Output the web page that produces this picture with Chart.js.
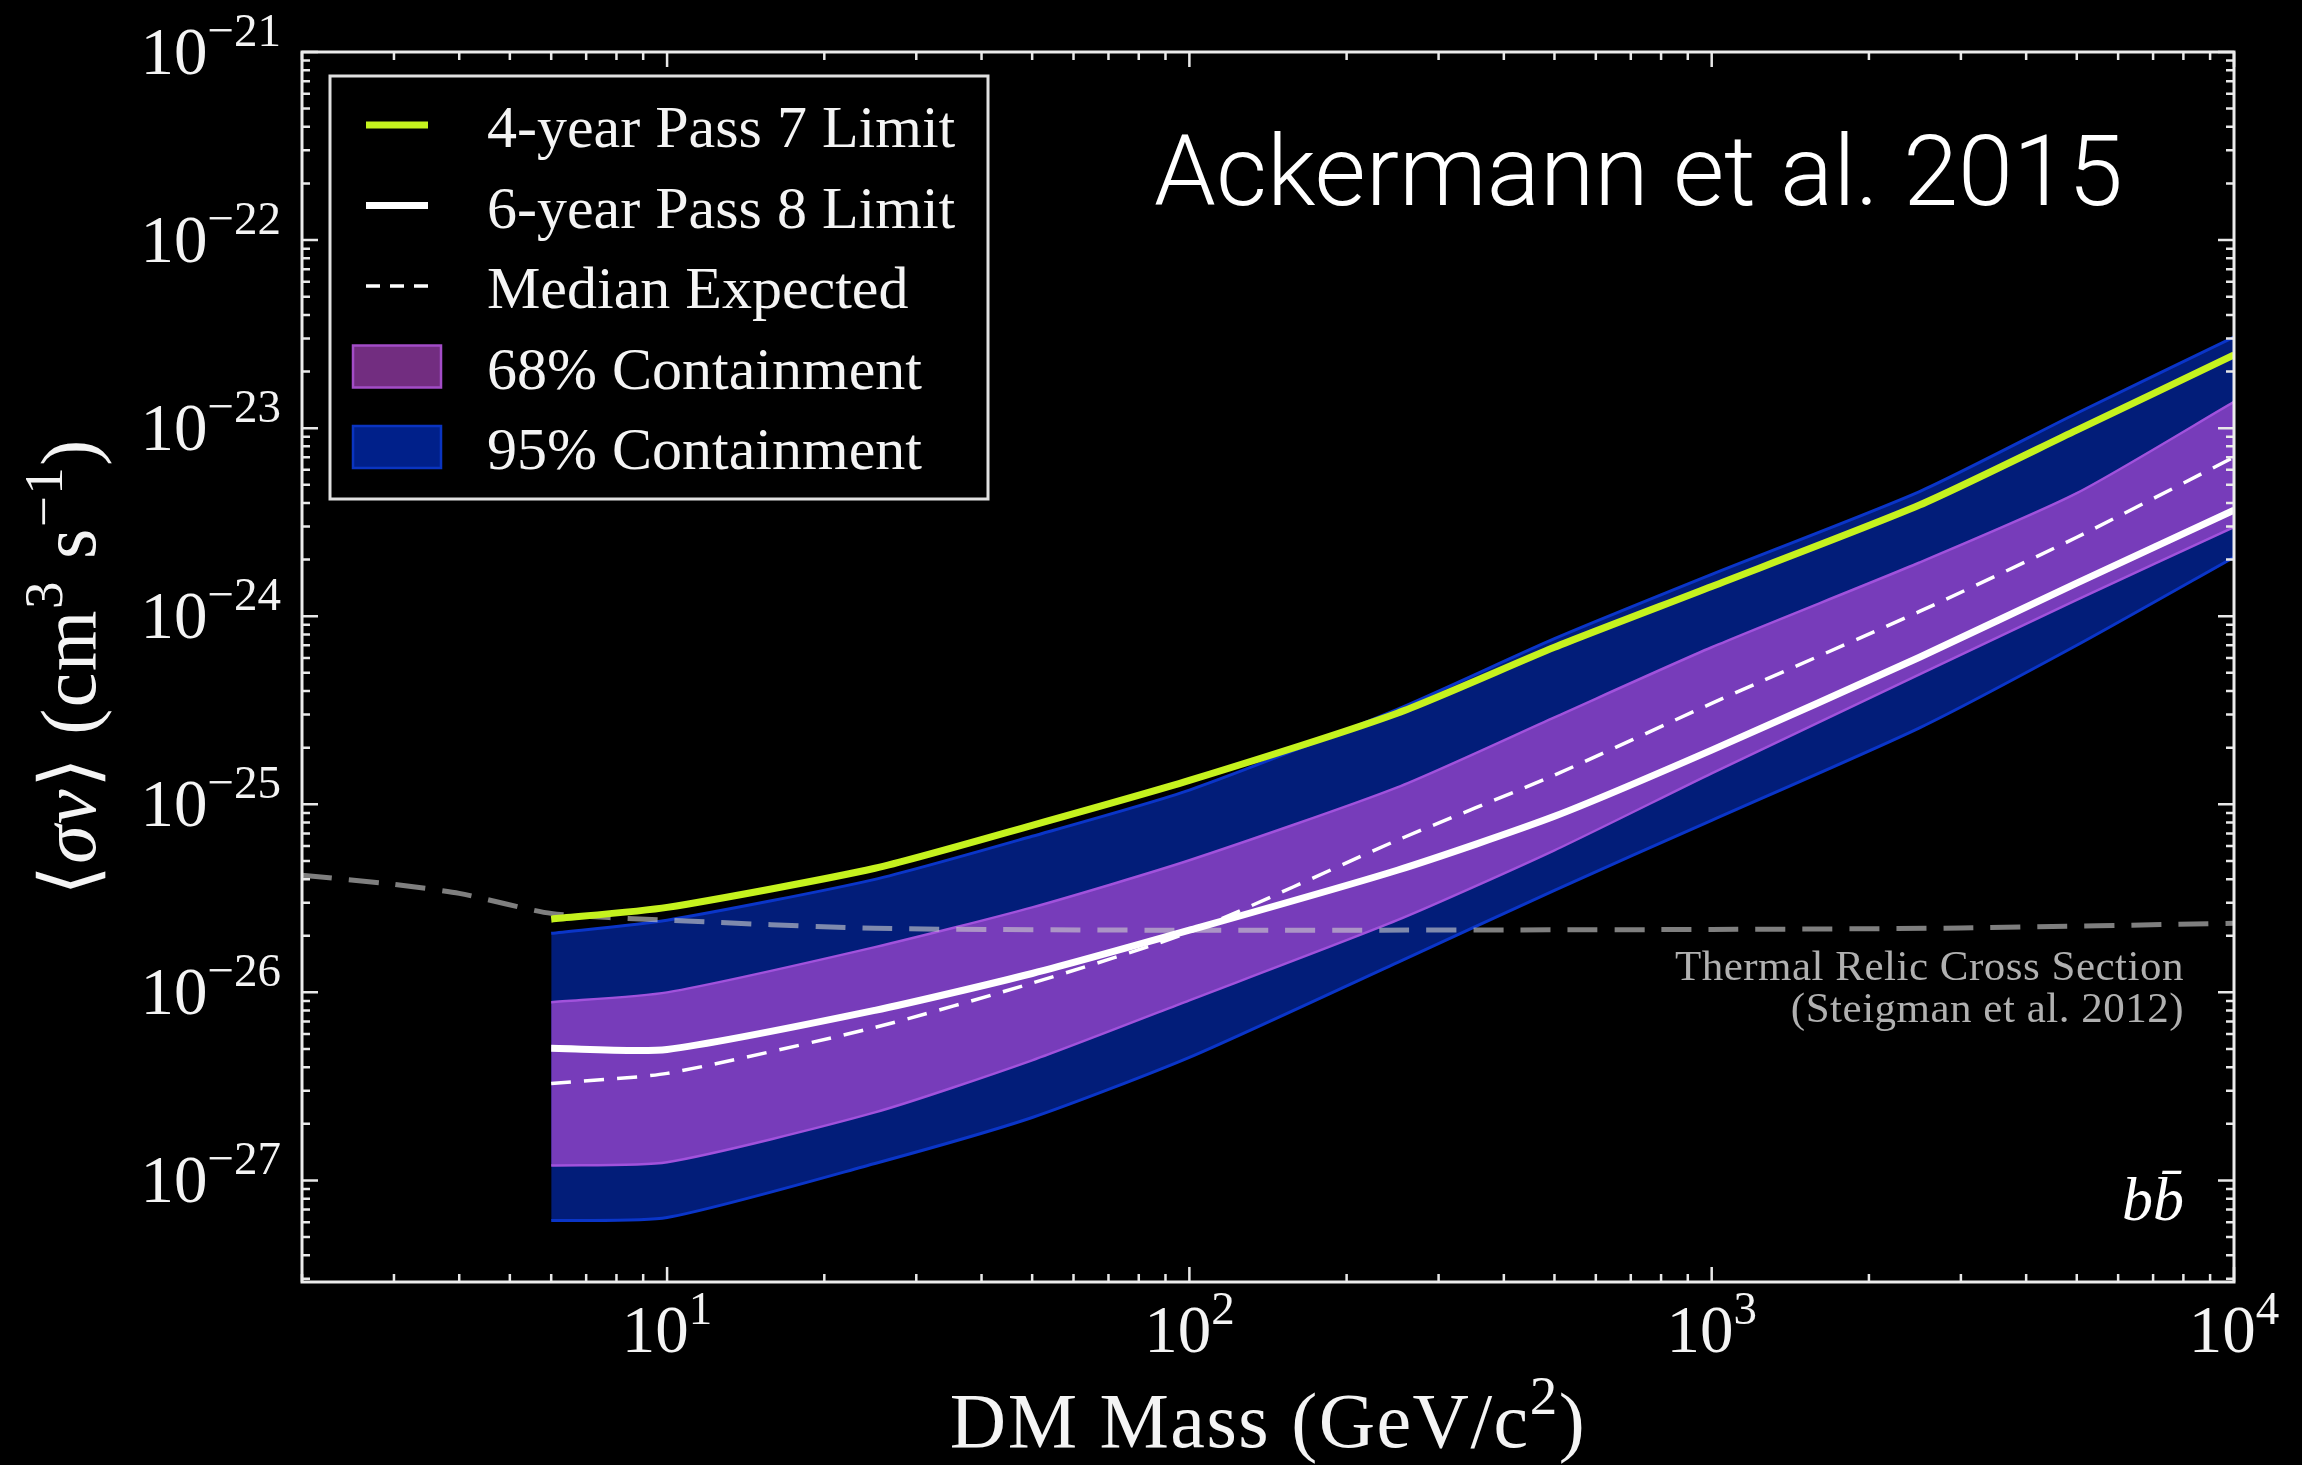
<!DOCTYPE html>
<html>
<head>
<meta charset="utf-8">
<script src="https://cdn.jsdelivr.net/npm/chart.js@4.4.0/dist/chart.umd.min.js"></script>
<style>
  html, body { margin: 0; padding: 0; background: #000; }
  #wrap { width: 2302px; height: 1465px; }
</style>
</head>
<body>
<div id="wrap"><canvas id="graph-canvas" width="2302" height="1465"></canvas></div>
<script>
// DM masses (GeV/c^2) and limits on <sigma v> (cm^3 s^-1)
var masses = [6, 10, 25, 50, 100, 250, 500, 1000, 2500, 5000, 10000];
var pass7Limit = [2.45e-26, 2.83e-26, 4.57e-26, 7.73e-26, 1.34e-25, 3.05e-25, 6.84e-25, 1.44e-24, 3.9e-24, 9.76e-24, 2.45e-23];
var pass8Limit = [5.04e-27, 4.97e-27, 8.02e-27, 1.26e-26, 2.14e-26, 4.46e-26, 8.63e-26, 1.94e-25, 6.05e-25, 1.5e-24, 3.66e-24];
var medianExpected = [3.28e-27, 3.71e-27, 6.51e-27, 1.12e-26, 2.09e-26, 6.44e-26, 1.43e-25, 3.44e-25, 1.06e-24, 2.63e-24, 7.01e-24];
var band68Upper = [8.85e-27, 1.0e-26, 1.74e-26, 2.83e-26, 5.04e-26, 1.23e-25, 2.9e-25, 6.84e-25, 1.93e-24, 4.51e-24, 1.38e-23];
var band68Lower = [1.2e-27, 1.25e-27, 2.3e-27, 4.35e-27, 9.07e-27, 2.42e-26, 5.69e-26, 1.46e-25, 4.9e-25, 1.22e-24, 2.98e-24];
var band95Upper = [2.06e-26, 2.42e-26, 3.99e-26, 6.76e-26, 1.19e-25, 3.2e-25, 7.6e-25, 1.67e-24, 4.6e-24, 1.2e-23, 3.05e-23];
var band95Lower = [6.12e-28, 6.35e-28, 1.23e-27, 2.16e-27, 4.51e-27, 1.44e-26, 3.49e-26, 8.22e-26, 2.55e-25, 7.01e-25, 2.06e-24];
var thermalMasses = [2, 3, 4, 6, 10, 25, 100, 1000, 3000, 10000];
var thermalRelic = [4.2e-26, 3.75e-26, 3.36e-26, 2.63e-26, 2.42e-26, 2.19e-26, 2.14e-26, 2.16e-26, 2.2e-26, 2.33e-26];
var xDecades = [1, 2, 3, 4];
var yDecades = [-27, -26, -25, -24, -23, -22, -21];

var serif = "'Liberation Serif', 'DejaVu Serif', serif";

var pts = (xs, ys) => xs.map((x, i) => ({x: x, y: ys[i]}));

var datasets = [
    {label: '6-year Pass 8 Limit', data: pts(masses, pass8Limit), borderColor: '#ffffff', borderWidth: 7},
    {label: 'Median Expected', data: pts(masses, medianExpected), borderColor: '#ffffff', borderWidth: 3.5, borderDash: [20, 13]},
    {label: '4-year Pass 7 Limit', data: pts(masses, pass7Limit), borderColor: '#c5f21e', borderWidth: 7},
    {label: 'Thermal Relic Cross Section', data: pts(thermalMasses, thermalRelic), borderColor: 'rgba(205,205,205,0.62)', borderWidth: 5, borderDash: [30, 17]},
    {label: '68% Containment', data: pts(masses, band68Upper), borderColor: '#a152dc', borderWidth: 2.5, backgroundColor: '#773cba', fill: '+1'},
    {label: '', data: pts(masses, band68Lower), borderColor: '#a152dc', borderWidth: 2.5},
    {label: '95% Containment', data: pts(masses, band95Upper), borderColor: '#0a35c8', borderWidth: 3, backgroundColor: '#021d79', fill: '+1'},
    {label: '', data: pts(masses, band95Lower), borderColor: '#0a35c8', borderWidth: 3}
];
datasets.forEach(d => { d.pointRadius = 0; d.tension = 0.22; if (!d.fill) d.fill = false; });

// pieces of text: [string, kind] with kind '' normal, 'i' italic, 's' superscript
function partFont(p, size) {
    if (p[1] == 's') return Math.round(size * 0.7) + 'px ' + serif;
    if (p[1] == 'i') return 'italic ' + size + 'px ' + serif;
    return size + 'px ' + serif;
}

function drawParts(ctx, parts, x, y, align, size, spacing) {
    var widths = [], total = 0;
    ctx.letterSpacing = (spacing || 0) + 'px';
    parts.forEach(p => {
        ctx.font = partFont(p, size);
        var w = ctx.measureText(p[0]).width;
        widths.push(w);
        total += w;
    });
    var cx = align == 'center' ? x - total / 2 : (align == 'right' ? x - total : x);
    ctx.textAlign = 'left';
    ctx.textBaseline = 'alphabetic';
    parts.forEach((p, i) => {
        ctx.font = partFont(p, size);
        ctx.fillText(p[0], cx, p[1] == 's' ? y - size * 0.42 : y);
        cx += widths[i];
    });
    ctx.letterSpacing = '0px';
}

var legendOrder = [2, 0, 1, 4, 6];
var legendSwatch = {4: ['#722d80', '#a34cc7'], 6: ['#00208a', '#0a34c0']};

var decorations = {
    id: 'decorations',
    afterDatasetsDraw(chart) {
        var ctx = chart.ctx, a = chart.chartArea;
        var xs = chart.scales.x, ys = chart.scales.y;
        ctx.save();

        // ticks pointing inwards on all four sides
        ctx.strokeStyle = '#e8e8e8';
        ctx.lineWidth = 2.5;
        ctx.beginPath();
        for (var d = 0; d <= 4; d++) {
            for (var m = 1; m < 10; m++) {
                var v = m * Math.pow(10, d);
                if (v < xs.min * 0.999 || v > xs.max * 1.001) continue;
                var px = xs.getPixelForValue(v);
                var len = m == 1 ? 15 : 8;
                ctx.moveTo(px, a.bottom); ctx.lineTo(px, a.bottom - len);
                ctx.moveTo(px, a.top); ctx.lineTo(px, a.top + len);
            }
        }
        for (var d = -28; d <= -21; d++) {
            for (var m = 1; m < 10; m++) {
                var v = m * Math.pow(10, d);
                if (v < ys.min || v > ys.max * 1.001) continue;
                var py = ys.getPixelForValue(v);
                var len = m == 1 ? 16 : 8;
                ctx.moveTo(a.left, py); ctx.lineTo(a.left + len, py);
                ctx.moveTo(a.right, py); ctx.lineTo(a.right - len, py);
            }
        }
        ctx.stroke();

        // frame
        ctx.lineWidth = 3;
        ctx.strokeStyle = '#ececec';
        ctx.strokeRect(a.left, a.top, a.right - a.left, a.bottom - a.top);

        // tick labels
        ctx.fillStyle = '#f4f4f4';
        yDecades.forEach(k => {
            var py = ys.getPixelForValue(Math.pow(10, k));
            drawParts(ctx, [['10', ''], ['\u2212' + (-k), 's']], 281, py + 22, 'right', 67);
        });
        xDecades.forEach(k => {
            var px = xs.getPixelForValue(Math.pow(10, k));
            drawParts(ctx, [['10', ''], [String(k), 's']], px, 1352, 'center', 67);
        });

        // axis titles
        drawParts(ctx, [['DM Mass (GeV/c', ''], ['2', 's'], [')', '']], (a.left + a.right) / 2, 1447, 'center', 78, 1.5);
        ctx.save();
        ctx.translate(95, (a.top + a.bottom) / 2);
        ctx.rotate(-Math.PI / 2);
        drawParts(ctx, [['\u27e8', ''], ['\u03c3v', 'i'], ['\u27e9 (cm', ''], ['3', 's'], [' s', ''], ['\u22121', 's'], [')', '']], 0, 0, 'center', 78, 1.5);
        ctx.restore();

        // annotations
        ctx.fillStyle = '#b0b0b0';
        ctx.font = '43px ' + serif;
        ctx.textAlign = 'right';
        ctx.letterSpacing = '0.5px';
        ctx.fillText('Thermal Relic Cross Section', 2184, 980);
        ctx.fillText('(Steigman et al. 2012)', 2184, 1022);
        ctx.letterSpacing = '0px';
        ctx.fillStyle = '#ffffff';
        ctx.font = 'italic 62px ' + serif;
        ctx.fillText('b\u0062\u0304', 2184, 1220);

        ctx.font = '300 99px Roboto, "Open Sans", sans-serif';
        ctx.textAlign = 'left';
        ctx.fillText('Ackermann et al. 2015', 1154, 205);

        // legend box
        ctx.fillStyle = '#000000';
        ctx.fillRect(330, 76, 658, 423);
        ctx.strokeStyle = '#e0e0e0';
        ctx.lineWidth = 3;
        ctx.strokeRect(330, 76, 658, 423);
        legendOrder.forEach((idx, row) => {
            var ds = chart.data.datasets[idx];
            var cy = 125 + row * 80.5;
            if (legendSwatch[idx]) {
                ctx.fillStyle = legendSwatch[idx][0];
                ctx.strokeStyle = legendSwatch[idx][1];
                ctx.lineWidth = 2.5;
                ctx.fillRect(353, cy - 21, 88, 42);
                ctx.strokeRect(353, cy - 21, 88, 42);
            } else {
                ctx.strokeStyle = ds.borderColor;
                ctx.lineWidth = ds.borderWidth;
                ctx.setLineDash(ds.borderDash ? [14, 10] : []);
                ctx.beginPath();
                ctx.moveTo(366, cy); ctx.lineTo(428, cy);
                ctx.stroke();
                ctx.setLineDash([]);
            }
            ctx.fillStyle = '#f4f4f4';
            ctx.font = '60px ' + serif;
            ctx.textAlign = 'left';
            ctx.fillText(ds.label, 487, cy + 22);
        });
        ctx.restore();
    }
};

var canvas = window.document.getElementById('graph-canvas');
var context = canvas.getContext('2d');
var chart = new Chart(context, {
    type: 'line',
    data: {datasets: datasets},
    options: {
        responsive: false,
        animation: false,
        devicePixelRatio: 1,
        events: [],
        layout: {padding: {left: 302, top: 52, right: 68, bottom: 183}},
        plugins: {
            legend: {display: false},
            tooltip: {enabled: false},
            filler: {drawTime: 'beforeDatasetsDraw'}
        },
        scales: {
            x: {type: 'logarithmic', min: 2, max: 10000, display: false},
            y: {type: 'logarithmic', min: Math.pow(10, -27.54), max: 1e-21, display: false}
        }
    },
    plugins: [decorations]
});
</script>
</body>
</html>
